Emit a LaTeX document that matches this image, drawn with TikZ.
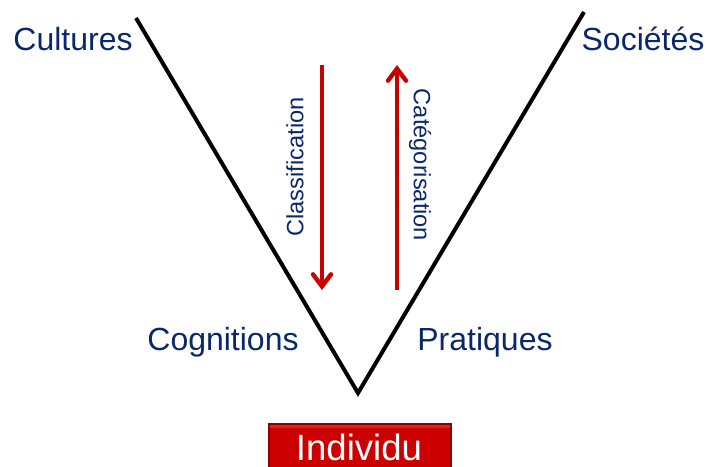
\documentclass[tikz,border=0pt]{standalone}
\usepackage{fontspec}
\setmainfont{Liberation Sans}
\definecolor{navytext}{RGB}{10, 40, 105}
\definecolor{arrowred}{RGB}{200, 0, 0}
\definecolor{boxred}{RGB}{204, 0, 0}
\usetikzlibrary{arrows.meta, positioning, calc}

\begin{document}
\begin{tikzpicture}[x=0.5pt, y=-0.5pt,
    lvl/.style={font=\fontsize{16}{18}\selectfont, text=navytext, inner sep=0pt, anchor=base},
    proc/.style={font=\fontsize{11.8}{13}\selectfont, text=navytext, inner sep=0pt},
    flow/.style={draw=arrowred, line width=2.2pt, -{Straight Barb[length=6pt, width=9pt, line cap=round]}}]
  \useasboundingbox (0,0) rectangle (709,467);

  % The V
  \coordinate (cultTop) at (136, 18);
  \coordinate (indiv) at (358, 393);
  \coordinate (socTop) at (584, 12);
  \draw[line width=2pt] (cultTop) -- (indiv) -- (socTop);

  % Levels
  \node[lvl] (cultures) at (73, 50) {Cultures};
  \node[lvl] (societes) at (643, 50) {Sociétés};
  \node[lvl] (cognitions) at (223, 350) {Cognitions};
  \node[lvl] (pratiques) at (485, 350) {Pratiques};

  % Processes
  \coordinate (clsStart) at (322, 65);
  \coordinate (clsEnd) at (322, 290);
  \coordinate (catStart) at (397, 290);
  \coordinate (catEnd) at (397, 65);
  \draw[flow] (clsStart) -- (clsEnd);
  \draw[flow] (catStart) -- (catEnd);
  \node[proc, rotate=90] (classif) at (295, 167) {Classification};
  \node[proc, rotate=-90] (categ) at (420, 165) {Catégorisation};

  % Individual
  \fill[boxred!70!black] (268, 423) rectangle (452, 470);
  \fill[boxred] (270, 425) rectangle (450, 470);
  \fill[white, opacity=0.15] (270, 425) rectangle (450, 428);
  \node[font=\fontsize{18.3}{20}\selectfont, text=white, inner sep=0pt, anchor=base] (individu) at (359, 460) {Individu};
\end{tikzpicture}
\end{document}
